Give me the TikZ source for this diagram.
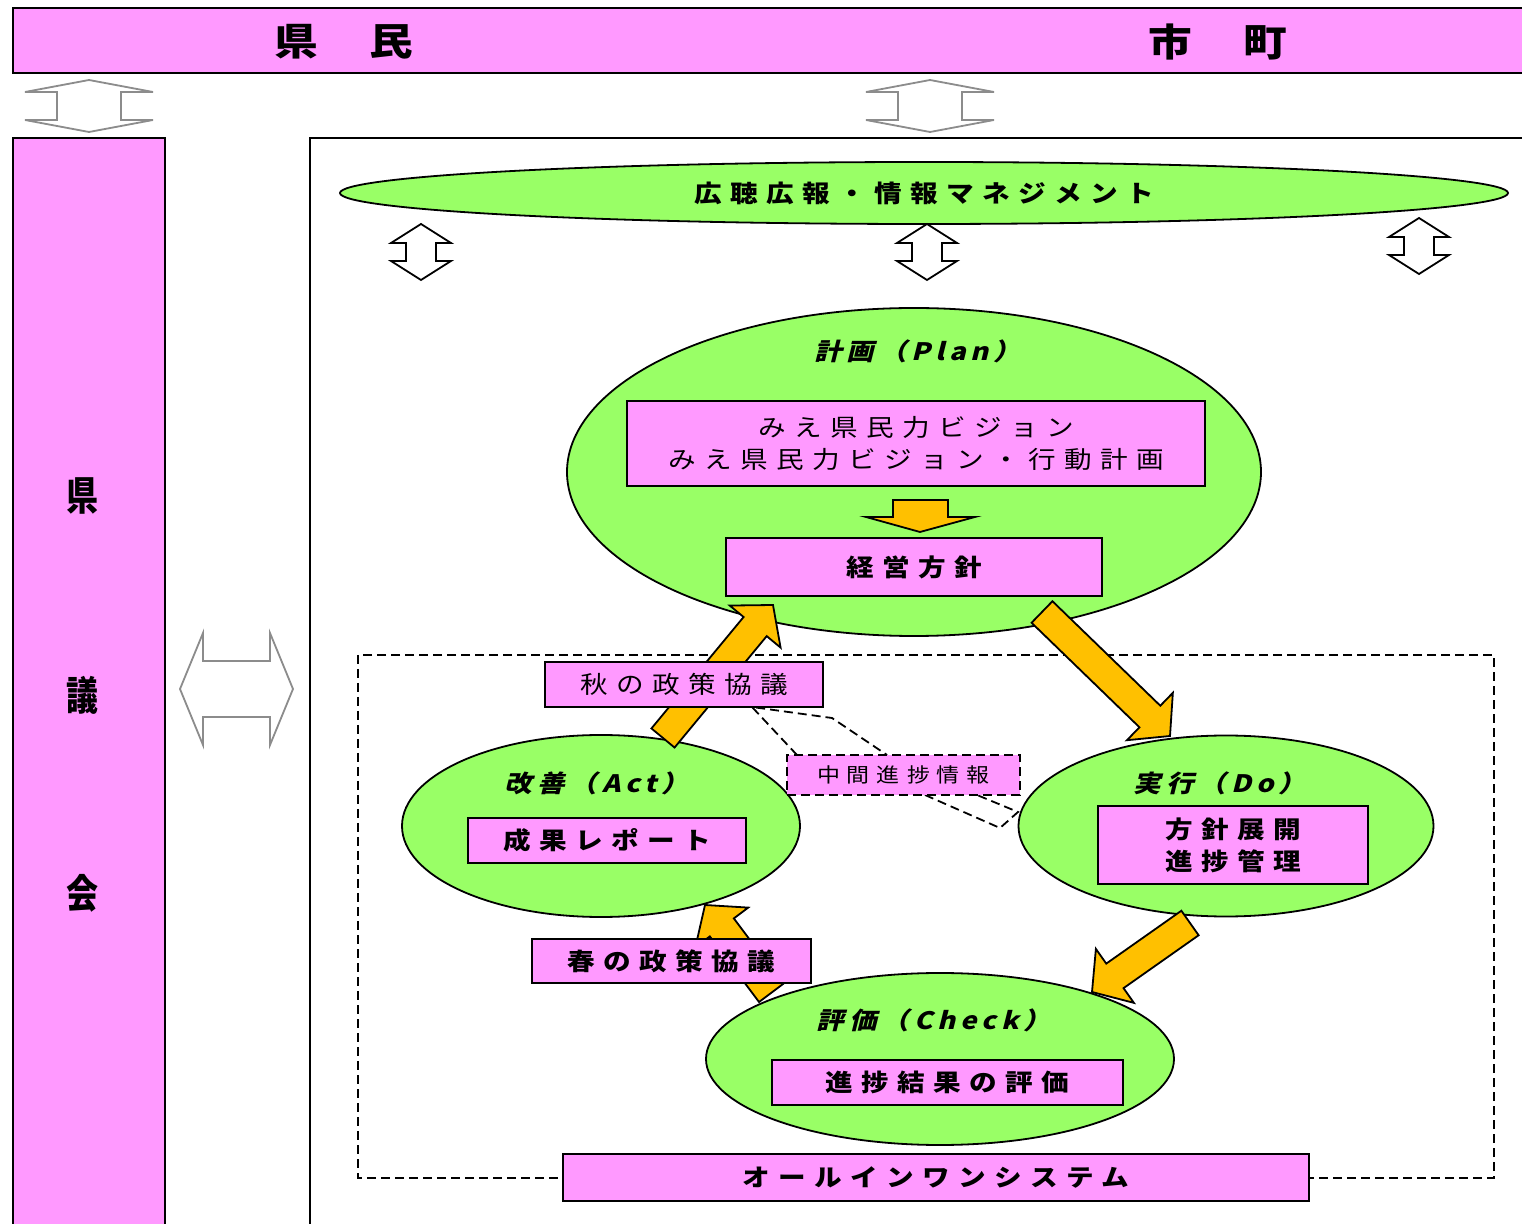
\documentclass[tikz,border=0pt]{standalone}
\usepackage{fontspec}
\usepackage{tikz}
\usetikzlibrary{calc,shapes.geometric}
\newfontfamily\jp[LetterSpace=35,FakeStretch=1.15]{Noto Sans CJK JP}
\newfontfamily\jpsl[LetterSpace=20,FakeStretch=1.15,FakeSlant=0.25,
  BoldFeatures={FakeSlant=0.25,FakeStretch=1.15}]{Noto Sans CJK JP}
\newfontfamily\jptall[FakeStretch=0.8]{Noto Sans CJK JP}
\definecolor{kpink}{HTML}{FF99FF}
\definecolor{kgreen}{HTML}{99FF66}
\definecolor{korange}{HTML}{FFC000}
\definecolor{kgray}{HTML}{8C8C8C}
\tikzset{
  pinkbox/.style={draw, fill=kpink, line width=0.9pt, inner sep=0pt, align=center,
    font=\jp\bfseries\fontsize{12}{16}\selectfont},
  thinbox/.style={pinkbox, font=\jp\fontsize{12}{16}\selectfont},
  greenell/.style={ellipse, draw, fill=kgreen, line width=0.9pt, inner sep=0pt},
  cycletitle/.style={font=\jpsl\bfseries\fontsize{12}{14}\selectfont},
  bigtext/.style={font=\jp\bfseries\fontsize{19}{22}\selectfont},
  talltext/.style={font=\jptall\bfseries\fontsize{20}{22}\selectfont},
  grayarrow/.style={draw=kgray, fill=white, line width=0.9pt},
  updown/.style={draw, fill=white, line width=0.9pt},
  orangearrow/.style={draw, fill=korange, line width=0.9pt},
  dashline/.style={dash pattern=on 4.5pt off 2.5pt, line width=0.9pt},
}
% orange block arrow: start, tip
\newcommand{\blockarrow}[2]{%
  \coordinate (ba-s) at (#1);
  \coordinate (ba-t) at (#2);
  \coordinate (ba-h) at ($(ba-t)!14pt!(ba-s)$);
  \draw[orangearrow] ($(ba-s)!7.5pt!90:(ba-t)$) -- ($(ba-h)!7.5pt!90:(ba-t)$)
    -- ($(ba-h)!16.5pt!90:(ba-t)$) -- (ba-t) -- ($(ba-h)!16.5pt!-90:(ba-t)$)
    -- ($(ba-h)!7.5pt!-90:(ba-t)$) -- ($(ba-s)!7.5pt!-90:(ba-t)$) -- cycle;}

\begin{document}
\begin{tikzpicture}[x=0.5pt,y=-0.5pt]
\useasboundingbox (0,0) rectangle (1522,1224);
\clip (0,0) rectangle (1522,1224);

% outer frame
\draw [fill=kpink, line width=0.9pt] (13,8) rectangle (1540,73);
\node[bigtext] (kenmin) at (344,42) {県\hspace{26pt}民};
\node[bigtext] (shicho) at (1218,42) {市\hspace{26pt}町};
\draw [fill=kpink, line width=0.9pt] (13,138) rectangle (165,1240);
\node[talltext] (ken) at (82,496) {県};
\node[talltext] (gi) at (82,695) {議};
\node[talltext] (kai) at (82,893) {会};
\draw [line width=0.7pt] (310,1240) -- (310,138) -- (1540,138);

% gray arrows
\foreach \x in {89,930}
  \draw[grayarrow] (\x,80) -- ++(64,12) -- ++(-32,0) -- ++(0,28) -- ++(32,0)
    -- ++(-64,12) -- ++(-64,-12) -- ++(32,0) -- ++(0,-28) -- ++(-32,0) -- cycle;
\draw[grayarrow] (180,689) -- (203,633) -- (203,661) -- (270,661) -- (270,633)
  -- (293,689) -- (270,745) -- (270,717) -- (203,717) -- (203,745) -- cycle;

% information management
\node[greenell, minimum width=584pt, minimum height=31pt,
  font=\jp\bfseries\fontsize{12}{14}\selectfont] (koho) at (924,193) {広聴広報・情報マネジメント};
\foreach \x/\y in {421/224,927/224,1419/218}
  \draw[updown] (\x,\y) -- ++(30,19) -- ++(-15,0) -- ++(0,18) -- ++(15,0)
    -- ++(-30,19) -- ++(-30,-19) -- ++(15,0) -- ++(0,-18) -- ++(-15,0) -- cycle;

\draw [dashline] (358,655) rectangle (1494,1178);

% plan
\node[greenell, minimum width=347pt, minimum height=164pt] (plan) at (914,472) {};
\node[cycletitle] (plantitle) at (918,351) {計画（Plan）};
\node[thinbox, minimum width=289pt, minimum height=42.5pt] (vision) at (916,443.5)
  {みえ県民力ビジョン\\みえ県民力ビジョン・行動計画};
\draw[orangearrow] (893,500) -- (948,500) -- (948,517) -- (975,517) -- (920,532)
  -- (866,517) -- (893,517) -- cycle;
\node[pinkbox, minimum width=188pt, minimum height=29pt] (keiei) at (914,567) {経営方針};

% do
\node[greenell, minimum width=207.5pt, minimum height=90.5pt] (do) at (1226,826) {};
\node[cycletitle] (dotitle) at (1220,783) {実行（Do）};
\node[pinkbox, minimum width=135pt, minimum height=39pt] (tenkai) at (1233,845)
  {方針展開\\進捗管理};

% act
\node[greenell, minimum width=199pt, minimum height=91pt] (act) at (601,826) {};
\node[cycletitle] (acttitle) at (597,783) {改善（Act）};
\node[pinkbox, minimum width=139pt, minimum height=22.5pt] (seika) at (607,840.5) {成果レポート};

% check
\node[greenell, minimum width=234pt, minimum height=86pt] (check) at (940,1059) {};
\node[cycletitle] (checktitle) at (934,1020) {評価（Check）};
\node[pinkbox, minimum width=175.5pt, minimum height=22.5pt] (hyoka) at (947.5,1082.5) {進捗結果の評価};

% cycle arrows
\blockarrow{663,738}{773,605}
\blockarrow{1042,612}{1170,736}
\blockarrow{1190,923}{1092,992}
\blockarrow{771,993}{705,905}

\node[thinbox, minimum width=139pt, minimum height=22.5pt] (aki) at (684,684.5) {秋の政策協議};
\node[pinkbox, minimum width=139.5pt, minimum height=22pt] (haru) at (671.5,961) {春の政策協議};

% interim report callout
\coordinate (tipa) at (752,707);
\coordinate (tipb) at (1018,812);
\draw[dashline] (797,755) -- (tipa) -- (832,718) -- (887,755);
\draw[dashline] (925,795) -- (1000,828) -- (tipb) -- (977,795);
\node[thinbox, dashline, minimum width=116.5pt, minimum height=20pt,
  font=\jp\fontsize{10}{12}\selectfont] (chukan) at (903.5,775) {中間進捗情報};

\node[pinkbox, minimum width=373pt, minimum height=23.5pt] (allinone) at (936,1177.5) {オールインワンシステム};
\end{tikzpicture}
\end{document}
